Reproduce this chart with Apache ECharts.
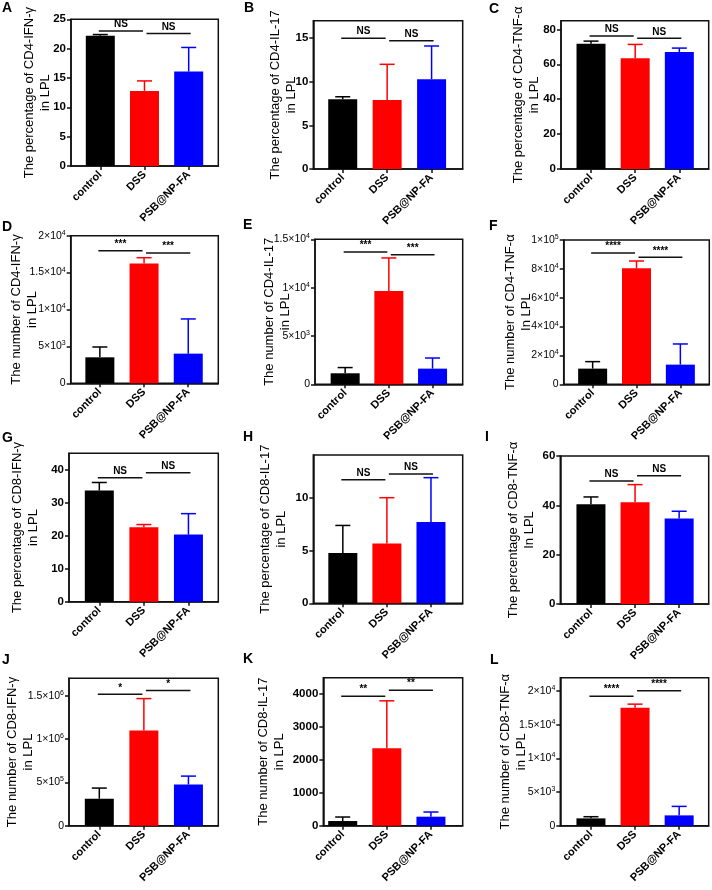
<!DOCTYPE html>
<html><head><meta charset="utf-8">
<script src="https://cdn.jsdelivr.net/npm/echarts@6/dist/echarts.min.js"></script>
<style>html,body{margin:0;padding:0;background:#fff}#c{width:712px;height:890px}</style>
</head><body><div id="c"></div>
<script>
const groups = ['control', 'DSS', 'PSB@NP-FA'];
const barColors = ['#000000', '#ff0000', '#0000ff'];

// A
const meanA = [22.2, 12.8, 16.1];
const errA = [0.2, 1.7, 4.1];
const yTicksA = [0, 5, 10, 15, 20, 25];
const yLabelsA = ['0', '5', '10', '15', '20', '25'];
const yMaxA = 25;
const sigA = [23.0, 22.6];
const sigTextA = ['NS', 'NS'];
const titleA = ['The percentage of CD4-IFN-γ', 'in LPL'];
// B
const meanB = [8.0, 7.9, 10.3];
const errB = [0.28, 4.1, 3.8];
const yTicksB = [0, 5, 10, 15];
const yLabelsB = ['0', '5', '10', '15'];
const yMaxB = 17;
const sigB = [15.0, 14.7];
const sigTextB = ['NS', 'NS'];
const titleB = ['The percentage of CD4-IL-17', 'in LPL'];
// C
const meanC = [71.8, 63.5, 67.0];
const errC = [1.5, 7.9, 2.3];
const yTicksC = [0, 20, 40, 60, 80];
const yLabelsC = ['0', '20', '40', '60', '80'];
const yMaxC = 85;
const sigC = [76.2, 74.9];
const sigTextC = ['NS', 'NS'];
const titleC = ['The percentage of CD4-TNF-α', 'in LPL'];
// D
const meanD = [3520, 16250, 4020];
const errD = [1400, 770, 4700];
const yTicksD = [0, 5000, 10000, 15000, 20000];
const yLabelsD = ['0', '5×10^3', '1×10^4', '1.5×10^4', '2×10^4'];
const yMaxD = 20000;
const sigD = [17968, 17652];
const sigTextD = ['***', '***'];
const titleD = ['The number of CD4-IFN-γ', 'in LPL'];
// E
const meanE = [1140, 9660, 1620];
const errE = [590, 3410, 1100];
const yTicksE = [0, 5000, 10000, 15000];
const yLabelsE = ['0', '5×10^3', '1×10^4', '1.5×10^4'];
const yMaxE = 15000;
const sigE = [13690, 13414];
const sigTextE = ['***', '***'];
const titleE = ['The number of CD4-IL-17', 'in LPL'];
// F
const meanF = [10860, 80370, 13630];
const errF = [4850, 5080, 14320];
const yTicksF = [0, 20000, 40000, 60000, 80000, 100000];
const yLabelsF = ['0', '2×10^4', '4×10^4', '6×10^4', '8×10^4', '1×10^5'];
const yMaxF = 100000;
const sigF = [90993, 87990];
const sigTextF = ['****', '****'];
const titleF = ['The number of CD4-TNF-α', 'In LPL'];
// G
const meanG = [33.7, 22.6, 20.35];
const errG = [2.45, 0.8, 6.35];
const yTicksG = [0, 10, 20, 30, 40];
const yLabelsG = ['0', '10', '20', '30', '40'];
const yMaxG = 45;
const sigG = [37.6, 39.1];
const sigTextG = ['NS', 'NS'];
const titleG = ['The percentage of CD8-IFN-γ', 'in LPL'];
// H
const meanH = [4.76, 5.65, 7.67];
const errH = [2.59, 4.32, 4.19];
const yTicksH = [0, 5, 10];
const yLabelsH = ['0', '5', '10'];
const yMaxH = 14;
const sigH = [11.67, 12.2];
const sigTextH = ['NS', 'NS'];
const titleH = ['The percentage of CD8-IL-17', 'in LPL'];
// I
const meanI = [40.4, 41.2, 34.7];
const errI = [3.0, 7.2, 2.9];
const yTicksI = [0, 20, 40, 60];
const yLabelsI = ['0', '20', '40', '60'];
const yMaxI = 60;
const sigI = [49.9, 52.0];
const sigTextI = ['NS', 'NS'];
const titleI = ['The percentage of CD8-TNF-α', 'In LPL'];
// J
const meanJ = [311000, 1097500, 475000];
const errJ = [123000, 368500, 97000];
const yTicksJ = [0, 500000, 1000000, 1500000];
const yLabelsJ = ['0', '5×10^5', '1×10^6', '1.5×10^6'];
const yMaxJ = 1700000;
const sigJ = [1516000, 1558000];
const sigTextJ = ['*', '*'];
const titleJ = ['The number of CD8-IFN-γ', 'in LPL'];
// K
const meanK = [142, 2355, 274];
const errK = [122, 1442, 142];
const yTicksK = [0, 1000, 2000, 3000, 4000];
const yLabelsK = ['0', '1000', '2000', '3000', '4000'];
const yMaxK = 4500;
const sigK = [3939, 4122];
const sigTextK = ['**', '**'];
const titleK = ['The number of CD8-IL-17', 'in LPL'];
// L
const meanL = [1089, 17525, 1535];
const errL = [248, 544, 1336];
const yTicksL = [0, 5000, 10000, 15000, 20000];
const yLabelsL = ['0', '5×10^3', '1×10^4', '1.5×10^4', '2×10^4'];
const yMaxL = 22000;
const sigL = [19257, 20050];
const sigTextL = ['****', '****'];
const titleL = ['The number of CD8-TNF-α', 'in LPL'];

const panels = [
  ['A', meanA, errA, yTicksA, yLabelsA, yMaxA, sigA, sigTextA, titleA],
  ['B', meanB, errB, yTicksB, yLabelsB, yMaxB, sigB, sigTextB, titleB],
  ['C', meanC, errC, yTicksC, yLabelsC, yMaxC, sigC, sigTextC, titleC],
  ['D', meanD, errD, yTicksD, yLabelsD, yMaxD, sigD, sigTextD, titleD],
  ['E', meanE, errE, yTicksE, yLabelsE, yMaxE, sigE, sigTextE, titleE],
  ['F', meanF, errF, yTicksF, yLabelsF, yMaxF, sigF, sigTextF, titleF],
  ['G', meanG, errG, yTicksG, yLabelsG, yMaxG, sigG, sigTextG, titleG],
  ['H', meanH, errH, yTicksH, yLabelsH, yMaxH, sigH, sigTextH, titleH],
  ['I', meanI, errI, yTicksI, yLabelsI, yMaxI, sigI, sigTextI, titleI],
  ['J', meanJ, errJ, yTicksJ, yLabelsJ, yMaxJ, sigJ, sigTextJ, titleJ],
  ['K', meanK, errK, yTicksK, yLabelsK, yMaxK, sigK, sigTextK, titleK],
  ['L', meanL, errL, yTicksL, yLabelsL, yMaxL, sigL, sigTextL, titleL]
];

// layout (pixels) — frame box, x-range in category units, name gap, letter position
const layout = [
  {l: 71, t: 19.3, r: 218.3, b: 166, xMin: -0.663, xMax: 2.67, gap: 18, lx: 2, ly: 1},
  {l: 313.3, t: 20.7, r: 462.7, b: 169, xMin: -0.662, xMax: 2.70, gap: 14, lx: 244, ly: 1},
  {l: 561, t: 20.7, r: 708.7, b: 169, xMin: -0.68, xMax: 2.665, gap: 19, lx: 489, ly: 2},
  {l: 70.7, t: 235.7, r: 218.3, b: 383.3, xMin: -0.66, xMax: 2.68, gap: 30, lx: 2, ly: 220},
  {l: 315, t: 239.3, r: 462.7, b: 384.3, xMin: -0.69, xMax: 2.69, gap: 22, lx: 243, ly: 218},
  {l: 563.7, t: 240, r: 709.3, b: 384.3, xMin: -0.66, xMax: 2.66, gap: 29, lx: 489, ly: 219},
  {l: 69, t: 453.3, r: 218.3, b: 601.7, xMin: -0.68, xMax: 2.67, gap: 28, lx: 2, ly: 431},
  {l: 313.3, t: 455, r: 462.7, b: 603.3, xMin: -0.67, xMax: 2.72, gap: 24, lx: 243, ly: 430},
  {l: 560.3, t: 456, r: 708.7, b: 604, xMin: -0.695, xMax: 2.67, gap: 23, lx: 485, ly: 430},
  {l: 69, t: 678.3, r: 218.3, b: 825.7, xMin: -0.68, xMax: 2.67, gap: 33, lx: 2, ly: 653},
  {l: 323.3, t: 677.7, r: 462.7, b: 825.7, xMin: -0.44, xMax: 2.72, gap: 36, lx: 243, ly: 652},
  {l: 560.3, t: 677.7, r: 708.7, b: 825.7, xMin: -0.695, xMax: 2.67, gap: 31, lx: 490, ly: 653}
];

const FONT = 'Liberation Sans';
const INK = '#111';
const grids = [], xAxes = [], yAxes = [], series = [], graphics = [];

panels.forEach((p, i) => {
  const [letter, mean, err, ticks, labels, yMax, sig, sigText, title] = p;
  const L = layout[i];
  const isExp = labels.some(s => s.indexOf('^') >= 0);
  grids.push({left: L.l, top: L.t, width: L.r - L.l, height: L.b - L.t, show: true,
    borderColor: INK, borderWidth: 1.5, backgroundColor: 'transparent'});
  xAxes.push({
    gridIndex: i, type: 'value', min: L.xMin, max: L.xMax,
    axisLine: {show: true, onZero: false, lineStyle: {color: INK, width: 1.5}},
    axisTick: {show: true, customValues: [0, 1, 2], length: 4, lineStyle: {color: INK, width: 1.5}},
    axisLabel: {customValues: [0, 1, 2], rotate: 45, margin: 7,
      formatter: v => groups[Math.round(v)] || '',
      fontFamily: FONT, fontWeight: 'bold', fontSize: 11, color: '#000'},
    splitLine: {show: false}
  });
  yAxes.push({
    gridIndex: i, type: 'value', min: 0, max: yMax,
    axisLine: {show: true, onZero: false, lineStyle: {color: INK, width: 1.5}},
    axisTick: {show: true, customValues: ticks, length: 4, lineStyle: {color: INK, width: 1.5}},
    axisLabel: {customValues: ticks, margin: 5,
      formatter: v => {
        let k = ticks.findIndex(t => Math.abs(t - v) <= 1e-6 * Math.max(1, Math.abs(t)));
        const s = k >= 0 ? labels[k] : '';
        if (s.indexOf('^') >= 0) { const parts = s.split('^'); return '{m|' + parts[0] + '}{e|' + parts[1] + '}'; }
        return isExp ? '{m|' + s + '}' : s;
      },
      fontFamily: FONT, fontWeight: isExp ? 'normal' : 'bold', fontSize: isExp ? 10 : 11.5, color: '#000',
      rich: {
        m: {fontFamily: FONT, fontSize: 10.5, color: '#000', lineHeight: 13},
        e: {fontFamily: FONT, fontSize: 7, color: '#000', lineHeight: 13, verticalAlign: 'top', padding: [0, 0, 6, 0]}
      }
    },
    splitLine: {show: false},
    name: title.join('\n'), nameLocation: 'middle', nameGap: L.gap, nameMoveOverlap: false,
    nameTextStyle: {fontFamily: FONT, fontSize: 13, lineHeight: 16, color: '#000'}
  });
  series.push({
    type: 'bar', xAxisIndex: i, yAxisIndex: i, barWidth: 29, z: 2,
    data: mean.map((v, j) => ({value: [j, v], itemStyle: {color: barColors[j]}}))
  });
  series.push({
    type: 'custom', xAxisIndex: i, yAxisIndex: i, z: 3, clip: false,
    data: mean.map((v, j) => [j, v, v + err[j]]),
    encode: {x: 0, y: [1, 2]},
    renderItem: (params, api) => {
      const j = api.value(0);
      const lo = api.coord([j, api.value(1)]);
      const hi = api.coord([j, api.value(2)]);
      const c = barColors[j];
      return {type: 'group', children: [
        {type: 'line', shape: {x1: lo[0], y1: lo[1], x2: hi[0], y2: hi[1]}, style: {stroke: c, lineWidth: 1.5}},
        {type: 'line', shape: {x1: hi[0] - 7.5, y1: hi[1], x2: hi[0] + 7.5, y2: hi[1]}, style: {stroke: c, lineWidth: 1.5}}
      ]};
    }
  });
  series.push({
    type: 'custom', xAxisIndex: i, yAxisIndex: i, z: 4, clip: false,
    data: sig.map((y, k) => [k, y]),
    encode: {x: 0, y: 1},
    renderItem: (params, api) => {
      const k = api.value(0);
      const y = api.value(1);
      const p1 = api.coord([k, y]);
      const p2 = api.coord([k + 1, y]);
      const off = k === 0 ? -1.5 : 2;
      const x1 = p1[0] + off, x2 = p2[0] + off;
      return {type: 'group', children: [
        {type: 'line', shape: {x1: x1, y1: p1[1], x2: x2, y2: p1[1]}, style: {stroke: INK, lineWidth: 1.5}},
        {type: 'text', style: {text: sigText[k], x: (x1 + x2) / 2, y: p1[1] - 1.5, align: 'center', verticalAlign: 'bottom',
          font: 'bold 10px "' + FONT + '"', fill: '#000'}}
      ]};
    }
  });
  graphics.push({type: 'text', x: L.lx, y: L.ly, style: {text: letter, font: 'bold 14px "' + FONT + '"', fill: '#000'}});
});

const chart = echarts.init(document.getElementById('c'), null, {renderer: 'canvas', width: 712, height: 890});
chart.setOption({
  animation: false,
  backgroundColor: '#fff',
  grid: grids, xAxis: xAxes, yAxis: yAxes, series: series, graphic: graphics
});
</script>
</body></html>
